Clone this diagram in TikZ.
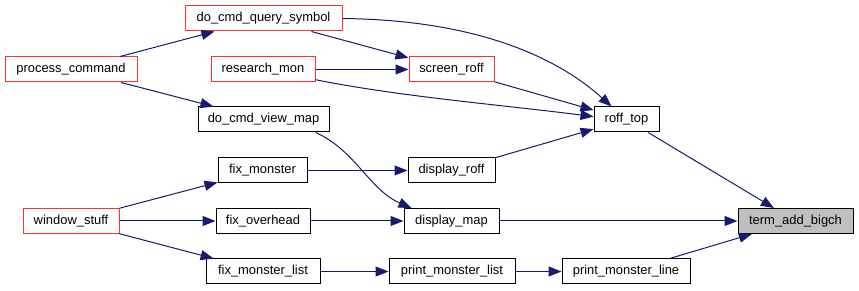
\documentclass[tikz,border=0pt]{standalone}
\usepackage{fontspec}
\setmainfont{Liberation Sans}
\usetikzlibrary{arrows.meta}
\definecolor{E}{RGB}{25, 25, 112}
\definecolor{R}{RGB}{255, 48, 48}
\definecolor{F}{RGB}{191, 191, 191}

\tikzset{
  fn/.style={draw=black, line width=0.75pt, fill=white, inner sep=0pt,
    minimum height=18.75pt, font=\fontsize{9.7}{11}\selectfont},
  ext/.style={fn, draw=R},
  call/.style={draw=E, line width=0.75pt, -{Triangle[length=9.75pt, width=7.5pt]}}
}

\begin{document}
\begin{tikzpicture}[x=0.75pt, y=-0.75pt]
    \useasboundingbox (0,0) rectangle (859,291);

    % Funciones que llaman (columna izquierda)
    \node[ext, minimum width=99pt] (pc) at (71,69.5) {process\_command};
    \node[ext, minimum width=72pt] (ws) at (71,221) {window\_stuff};

    % Segunda columna
    \node[ext, minimum width=117.75pt] (dq) at (263.5,18.5) {do\_cmd\_query\_symbol};
    \node[ext, minimum width=78pt] (rm) at (263,69.5) {research\_mon};
    \node[fn, minimum width=98.25pt] (vm) at (263.5,119.5) {do\_cmd\_view\_map};
    \node[fn, minimum width=66.75pt] (fm) at (262.5,170.5) {fix\_monster};
    \node[fn, minimum width=70.5pt] (fo) at (263,221) {fix\_overhead};
    \node[fn, minimum width=85.5pt] (fl) at (263,271.5) {fix\_monster\_list};

    % Tercera columna
    \node[ext, minimum width=63.75pt] (sr) at (451.5,69.5) {screen\_roff};
    \node[fn, minimum width=65.25pt] (dr) at (451.5,170.5) {display\_roff};
    \node[fn, minimum width=71.25pt] (dm) at (451.5,221) {display\_map};
    \node[fn, minimum width=94.5pt] (pml) at (452,271.5) {print\_monster\_list};

    % Cuarta columna
    \node[fn, minimum width=48.75pt] (rt) at (626.5,119.5) {roff\_top};
    \node[fn, minimum width=96pt] (pln) at (626,271.5) {print\_monster\_line};

    % Funcion destino
    \node[fn, fill=F, minimum width=86.25pt] (tb) at (795.5,221) {term\_add\_bigch};

    % Llamadas
    \draw[call] (pc) -- (dq);
    \draw[call] (pc) -- (vm);
    \draw[call] (dq) -- (sr);
    \draw[call] (rm) -- (sr);
    \draw[call] (dq.east) .. controls +(138,1.5) and +(-52,-47) .. (rt.139);
    \draw[call] (sr) -- (rt);
    \draw[call] (rm.-11) .. controls +(85,17) and +(-94,-12) .. (rt.175);
    \draw[call] (dr) -- (rt);
    \draw[call] (rt) -- (tb);

    \draw[call] (ws) -- (fm);
    \draw[call] (ws) -- (fo);
    \draw[call] (ws) -- (fl);
    \draw[call] (fm) -- (dr);
    \draw[call] (fo) -- (dm);
    \draw[call] (vm.-14) .. controls +(40,18) and +(-42,-18) .. (dm.162);
    \draw[call] (dm) -- (tb);

    \draw[call] (fl) -- (pml);
    \draw[call] (pml) -- (pln);
    \draw[call] (pln) -- (tb);
\end{tikzpicture}
\end{document}
